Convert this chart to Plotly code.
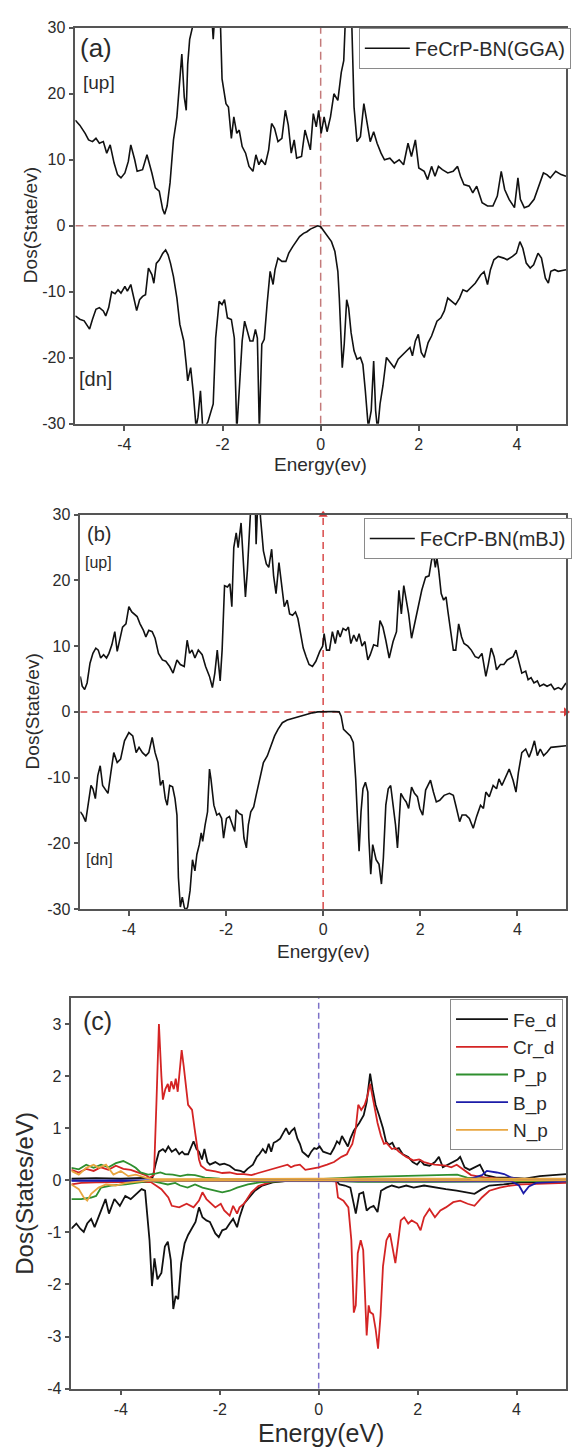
import plotly.graph_objects as go

# ---------------- data: panel (a) FeCrP-BN (GGA) ----------------
gga_up_x = [-5.0, -4.91, -4.80, -4.73, -4.65, -4.58, -4.51, -4.43, -4.36, -4.29,
            -4.21, -4.14, -4.07, -3.99, -3.92, -3.87, -3.79, -3.74, -3.63, -3.54,
            -3.44, -3.37, -3.29, -3.22, -3.18, -3.13, -3.07, -3.00, -2.93, -2.88,
            -2.83, -2.78, -2.74, -2.71, -2.67, -2.60, -2.49, -2.34, -2.23, -2.19,
            -2.14, -2.08, -2.04, -2.01, -1.93, -1.88, -1.82, -1.77, -1.71, -1.66,
            -1.60, -1.53, -1.46, -1.38, -1.32, -1.26, -1.21, -1.13, -1.06, -1.00,
            -0.94, -0.87, -0.79, -0.72, -0.66, -0.60, -0.54, -0.49, -0.39, -0.32,
            -0.26, -0.21, -0.15, -0.09, -0.04, 0.01, 0.07, 0.13, 0.20, 0.27,
            0.35, 0.42, 0.47, 0.51, 0.55, 0.60, 0.64, 0.68, 0.74, 0.81,
            0.88, 0.96, 1.01, 1.08, 1.15, 1.23, 1.30, 1.41, 1.50, 1.60,
            1.69, 1.78, 1.85, 1.93, 2.00, 2.11, 2.18, 2.26, 2.33, 2.40,
            2.48, 2.59, 2.70, 2.79, 2.85, 2.92, 3.03, 3.10, 3.18, 3.29,
            3.40, 3.51, 3.60, 3.68, 3.75, 3.84, 3.95, 4.02, 4.07, 4.15,
            4.24, 4.35, 4.46, 4.54, 4.61, 4.68, 4.79, 4.90, 5.00]
gga_up_y = [16, 15.25, 14, 13, 12.75, 13.25, 12.5, 12.75, 11, 12.25,
            9.5, 7.75, 7.25, 8, 9.75, 12.25, 10, 8.25, 8.5, 10.75,
            8, 5.75, 5.25, 2.5, 1.75, 3, 6.5, 13, 16.5, 21.5,
            26, 19.5, 17.5, 24.5, 28.25, 30.5, 38, 40, 33, 28.25,
            34, 31, 30, 22.25, 18.5, 18, 13.25, 16.5, 14, 14.5,
            12, 11, 9, 8.25, 10.75, 9.25, 10, 9.25, 11.5, 15.5,
            14.75, 12.75, 13.25, 17.5, 15.25, 11, 13, 10.25, 10.5, 14.5,
            13, 11.5, 17, 15, 17.5, 14, 16.5, 14.25, 16.5, 20,
            19, 23.25, 25, 30, 40, 40, 30, 18, 12.75, 13.5,
            18.5, 14.5, 12.75, 14.25, 12.5, 11, 10, 10.25, 9.5, 10,
            9.25, 12.5, 10.5, 13, 8.75, 8.25, 7, 9, 7.5, 9,
            8.5, 8, 8.25, 9, 7.5, 6.25, 6, 5, 6, 3.5,
            3, 3, 4.5, 8.25, 5.5, 4, 2.75, 7.25, 4, 2.75,
            3, 4, 6.5, 8, 7.75, 7.25, 8.25, 7.75, 7.5]

gga_dn_x = [-5.0, -4.91, -4.82, -4.76, -4.71, -4.65, -4.58, -4.51, -4.43, -4.38,
            -4.32, -4.26, -4.19, -4.13, -4.07, -3.99, -3.94, -3.87, -3.81, -3.75,
            -3.69, -3.63, -3.57, -3.51, -3.44, -3.40, -3.35, -3.29, -3.22, -3.16,
            -3.11, -3.06, -3.00, -2.93, -2.87, -2.79, -2.74, -2.71, -2.65, -2.60,
            -2.54, -2.50, -2.45, -2.40, -2.30, -2.19, -2.14, -2.07, -2.01, -1.96,
            -1.90, -1.82, -1.76, -1.71, -1.66, -1.60, -1.55, -1.49, -1.44, -1.38,
            -1.33, -1.29, -1.25, -1.20, -1.15, -1.09, -1.03, -0.97, -0.93, -0.87,
            -0.79, -0.71, -0.65, -0.57, -0.50, -0.43, -0.35, -0.28, -0.21, -0.13,
            -0.06, 0.0, 0.05, 0.13, 0.22, 0.29, 0.35, 0.38, 0.42, 0.44,
            0.48, 0.53, 0.57, 0.62, 0.68, 0.74, 0.81, 0.86, 0.91, 0.97,
            1.03, 1.08, 1.12, 1.16, 1.21, 1.27, 1.34, 1.41, 1.50, 1.58,
            1.67, 1.75, 1.82, 1.87, 1.93, 1.99, 2.05, 2.11, 2.19, 2.26,
            2.37, 2.45, 2.52, 2.59, 2.67, 2.75, 2.83, 2.90, 2.98, 3.05,
            3.15, 3.26, 3.33, 3.40, 3.46, 3.53, 3.62, 3.73, 3.80, 3.91,
            3.99, 4.06, 4.12, 4.19, 4.27, 4.34, 4.43, 4.50, 4.58, 4.64,
            4.69, 4.77, 4.84, 5.0]
gga_dn_y = [-13.65, -14.15, -14.4, -15.15, -15.65, -14.15, -12.65, -12.4, -12.9, -13.65,
            -12.4, -10, -10.3, -9.7, -10.2, -9.2, -9.9, -8.9, -10.9, -12.85,
            -11.2, -10.7, -10.45, -6.4, -7.4, -8.7, -5.7, -5.2, -4.2, -3.65,
            -4.4, -5.7, -7.7, -10.95, -14.95, -17.45, -21, -23.5, -21.5, -25,
            -30.5, -29, -25, -31, -29.75, -27, -17, -11.45, -11.95, -11.2,
            -13.95, -14.2, -17, -31, -25, -17.45, -14.45, -16.2, -17.45, -17.45,
            -15.7, -17, -31, -17.95, -17.2, -11.7, -6.9, -8.9, -6.65, -4.9,
            -5.4, -5.4, -4.15, -3.15, -2.4, -1.65, -1.15, -0.9, -0.5, -0.2,
            0, -0.15, -0.65, -1.4, -2.4, -3.9, -6.9, -10.95, -19.5, -21.5,
            -17.95, -11.2, -12.45, -16.2, -18.95, -20.2, -19.95, -21, -25, -30.5,
            -28, -20.5, -28, -31, -27, -24.2, -19.95, -20.7, -21.5, -20.2,
            -19.5, -18.95, -18.45, -19.7, -17.45, -16.45, -19.2, -19.95, -17.7, -16.7,
            -14.45, -13.95, -12.9, -10.95, -11.45, -11.95, -10.95, -9.7, -9.95, -9.45,
            -8.7, -7.45, -6.95, -8.9, -6.65, -5.15, -4.65, -4.9, -5.15, -4.65,
            -4.15, -2.4, -3.4, -5.65, -6.4, -5.9, -4.15, -4.9, -7.95, -8.7,
            -6.9, -6.65, -6.9, -6.65]

# ---------------- data: panel (b) FeCrP-BN (mBJ) ----------------
mbj_up_x = [-5.0, -4.96, -4.91, -4.86, -4.80, -4.74, -4.68, -4.63, -4.58, -4.52,
            -4.46, -4.41, -4.35, -4.29, -4.24, -4.19, -4.13, -4.06, -4.00, -3.94,
            -3.89, -3.83, -3.77, -3.70, -3.65, -3.59, -3.52, -3.46, -3.39, -3.31,
            -3.24, -3.16, -3.09, -3.01, -2.94, -2.86, -2.80, -2.75, -2.70, -2.64,
            -2.57, -2.49, -2.42, -2.34, -2.28, -2.23, -2.18, -2.12, -2.08, -2.03,
            -1.97, -1.92, -1.88, -1.84, -1.79, -1.75, -1.69, -1.64, -1.60, -1.56,
            -1.51, -1.47, -1.41, -1.38, -1.33, -1.29, -1.23, -1.17, -1.12, -1.06,
            -1.02, -0.97, -0.91, -0.86, -0.80, -0.74, -0.69, -0.63, -0.57, -0.52,
            -0.47, -0.41, -0.35, -0.29, -0.22, -0.15, -0.07, -0.01, 0.02, 0.07,
            0.13, 0.19, 0.25, 0.30, 0.35, 0.41, 0.47, 0.52, 0.57, 0.63,
            0.69, 0.74, 0.80, 0.86, 0.92, 0.97, 1.04, 1.12, 1.17, 1.23,
            1.29, 1.36, 1.44, 1.51, 1.56, 1.61, 1.66, 1.71, 1.76, 1.82,
            1.88, 1.96, 2.03, 2.11, 2.18, 2.23, 2.27, 2.31, 2.34, 2.38,
            2.43, 2.48, 2.53, 2.57, 2.63, 2.68, 2.73, 2.79, 2.85, 2.90,
            2.98, 3.05, 3.13, 3.20, 3.27, 3.31, 3.35, 3.40, 3.46, 3.52,
            3.57, 3.65, 3.72, 3.79, 3.85, 3.91, 3.97, 4.02, 4.09, 4.17,
            4.22, 4.28, 4.34, 4.41, 4.46, 4.54, 4.61, 4.69, 4.76, 4.84,
            4.91, 5.0]
mbj_up_y = [5.4, 3.9, 3.4, 4.4, 7.4, 8.9, 9.7, 9.4, 8.2, 8.7,
            8.2, 8.9, 10.2, 12.2, 9.2, 10.9, 12.9, 13.4, 16, 15.2,
            14.9, 14.5, 13.4, 12.4, 11.4, 12.4, 12.2, 11.2, 8.9, 7.9,
            7.7, 6.9, 5.9, 7.9, 7.2, 6.9, 10.9, 8.9, 9.4, 8.2,
            9.4, 8.7, 6.9, 5.4, 3.7, 5.9, 9.4, 4.7, 9.4, 19.2,
            19, 19.5, 16, 25, 27.25, 25, 28.75, 21.5, 17.5, 21.5,
            28, 34, 36, 25.5, 35, 29.6, 24.5, 22.5, 22, 24.75,
            20.7, 18, 22.7, 19.5, 16, 17, 14.9, 14.7, 15.2, 14.2,
            11.9, 9.7, 8.4, 7.2, 6.9, 7.7, 9.2, 10, 11.9, 9.4,
            9.4, 12.2, 10.4, 12.4, 11.4, 12.7, 12.4, 12.9, 10.4, 11.7,
            10.7, 11.9, 10, 10.7, 7.9, 8.7, 10.2, 10, 13.9, 12.9,
            10.9, 8.2, 10.7, 12.2, 18.5, 14.9, 19.2, 17, 14.9, 11.2,
            13.4, 16, 18.5, 20.5, 20.7, 23, 24, 22, 23.5, 21.5,
            18, 17, 17.5, 15.2, 12.4, 9.4, 9.4, 13.4, 11.4, 10.4,
            10, 9.4, 8.4, 8.2, 8.9, 6.9, 5.4, 7.2, 9.7, 8.4,
            6.4, 7.2, 7.2, 7.9, 8.2, 8.4, 9.4, 7.9, 5.9, 6.2,
            4.9, 5.2, 4.4, 4.7, 3.9, 4.2, 3.9, 4.2, 3.4, 3.7,
            3.4, 4.4]

mbj_dn_x = [-5.0, -4.95, -4.89, -4.84, -4.78, -4.74, -4.69, -4.64, -4.59, -4.54,
            -4.49, -4.43, -4.37, -4.31, -4.24, -4.17, -4.09, -4.00, -3.92, -3.85,
            -3.79, -3.72, -3.65, -3.59, -3.52, -3.46, -3.40, -3.35, -3.30, -3.25,
            -3.21, -3.16, -3.10, -3.05, -3.01, -2.98, -2.94, -2.90, -2.86, -2.83,
            -2.79, -2.74, -2.69, -2.64, -2.60, -2.55, -2.51, -2.48, -2.43, -2.38,
            -2.34, -2.31, -2.25, -2.19, -2.14, -2.09, -2.05, -1.99, -1.93, -1.88,
            -1.82, -1.79, -1.73, -1.67, -1.63, -1.58, -1.54, -1.49, -1.43, -1.38,
            -1.30, -1.23, -1.15, -1.08, -1.00, -0.93, -0.84, -0.74, -0.65, -0.56,
            -0.45, -0.33, -0.22, -0.11, 0.0, 0.11, 0.22, 0.33, 0.37, 0.42,
            0.48, 0.56, 0.62, 0.67, 0.71, 0.74, 0.78, 0.82, 0.87, 0.92,
            0.94, 0.98, 1.02, 1.06, 1.09, 1.15, 1.20, 1.24, 1.29, 1.34,
            1.39, 1.44, 1.49, 1.53, 1.56, 1.60, 1.66, 1.71, 1.76, 1.82,
            1.88, 1.94, 1.99, 2.05, 2.11, 2.16, 2.21, 2.27, 2.33, 2.40,
            2.49, 2.60, 2.68, 2.73, 2.81, 2.86, 2.94, 3.01, 3.09, 3.16,
            3.24, 3.30, 3.35, 3.42, 3.50, 3.57, 3.62, 3.68, 3.76, 3.83,
            3.91, 3.97, 4.02, 4.09, 4.17, 4.24, 4.29, 4.35, 4.41, 4.47,
            4.54, 4.61, 4.69, 5.0]
mbj_dn_y = [-15.2, -15.7, -16.7, -14.2, -11.2, -11.7, -13.2, -9.7, -8.2, -11.2,
            -11.7, -12.4, -9.2, -6.2, -7.7, -7.2, -4.4, -3.15, -3.65, -6.2,
            -5.4, -6.2, -6.7, -6.2, -3.9, -6.2, -7.7, -11.2, -10.4, -13.2,
            -14.2, -11.2, -11.4, -13.2, -15.7, -25.2, -29.7, -28.2, -29.7, -30.2,
            -29.7, -27.2, -22.5, -24.2, -21.7, -20.2, -18.4, -19.7, -17.2, -15.2,
            -8.7, -10.2, -14.2, -15.7, -15.45, -16.2, -19.2, -16.2, -15.9, -16.9,
            -18.2, -14.9, -15.45, -15.7, -19.2, -20.7, -17.2, -15.2, -14.45, -12.7,
            -10.2, -7.7, -6.7, -5.15, -3.65, -2.65, -1.65, -1.25, -1.05, -0.9,
            -0.65, -0.35, -0.15, 0, 0.05, 0.05, 0.05, 0, -0.65, -2.65,
            -3.15, -3.65, -4.65, -10.2, -16.7, -21.2, -15.2, -11.7, -10.7, -12.2,
            -19.2, -24.7, -20.2, -21.7, -22.5, -23.2, -26.2, -22.2, -14.2, -11.7,
            -11.2, -14.2, -17.2, -20.7, -16.2, -12.4, -13.2, -13.7, -14.7, -11.45,
            -12.4, -12.9, -14.7, -15.7, -11.9, -11.2, -10.4, -12.2, -13.7, -13.45,
            -12.7, -12.4, -12.7, -14.2, -16.7, -15.7, -15.7, -16.2, -17.7, -15.9,
            -14.2, -14.7, -12.2, -12.9, -11.2, -11.7, -10.2, -11.2, -9.9, -8.7,
            -10.4, -12.2, -9.2, -6.2, -5.65, -6.9, -5.9, -4.4, -6.65, -5.65,
            -6.65, -6.15, -5.4, -5.15]

# ---------------- data: panel (c) partial DOS ----------------
fe_d_up_x = [-5.0, -4.5, -4.0, -3.5, -3.36, -3.30, -3.23, -3.15, -3.10, -3.04,
             -2.97, -2.89, -2.82, -2.76, -2.71, -2.64, -2.56, -2.53, -2.47, -2.42,
             -2.36, -2.31, -2.25, -2.20, -2.09, -2.00, -1.91, -1.80, -1.69, -1.58,
             -1.51, -1.44, -1.33, -1.25, -1.20, -1.13, -1.07, -1.01, -0.96, -0.91,
             -0.85, -0.78, -0.71, -0.66, -0.60, -0.55, -0.49, -0.43, -0.38, -0.33,
             -0.27, -0.21, -0.15, -0.09, -0.04, 0.02, 0.09, 0.17, 0.24, 0.31,
             0.37, 0.42, 0.47, 0.53, 0.59, 0.64, 0.71, 0.82, 0.91, 0.97,
             1.04, 1.09, 1.15, 1.22, 1.30, 1.36, 1.42, 1.49, 1.55, 1.62,
             1.70, 1.81, 1.90, 1.99, 2.06, 2.13, 2.24, 2.35, 2.43, 2.51,
             2.61, 2.72, 2.81, 2.86, 2.95, 3.05, 3.15, 3.26, 3.37, 3.59,
             3.88, 4.17, 4.47, 4.68, 5.0]
fe_d_up_y = [0.03, 0.04, 0.03, 0.04, 0.05, 0.3, 0.55, 0.6, 0.55, 0.65,
             0.55, 0.6, 0.5, 0.55, 0.5, 0.5, 0.68, 0.75, 0.6, 0.55,
             0.4, 0.6, 0.35, 0.3, 0.35, 0.3, 0.32, 0.28, 0.2, 0.18,
             0.15, 0.22, 0.3, 0.45, 0.5, 0.6, 0.52, 0.7, 0.55, 0.72,
             0.75, 0.8, 0.92, 1.0, 0.88, 0.95, 1.0, 0.8, 0.7, 0.55,
             0.5, 0.45, 0.55, 0.62, 0.6, 0.65, 0.55, 0.52, 0.5, 0.62,
             0.75, 0.7, 0.85, 0.75, 0.65, 0.8, 0.95, 1.1, 1.25, 1.5,
             2.05, 1.75, 1.45, 1.25, 1.0, 0.75, 0.68, 0.72, 0.6, 0.62,
             0.5, 0.45, 0.35, 0.3, 0.38, 0.3, 0.28, 0.35, 0.45, 0.25,
             0.3, 0.35, 0.4, 0.45, 0.25, 0.2, 0.25, 0.3, 0.1, 0.05,
             0.05, 0.03, 0.08, 0.1, 0.12]
fe_d_dn_x = [-5.0, -4.97, -4.90, -4.82, -4.75, -4.68, -4.60, -4.53, -4.42, -4.31,
             -4.24, -4.13, -4.02, -3.91, -3.80, -3.69, -3.58, -3.51, -3.48, -3.42,
             -3.37, -3.32, -3.26, -3.18, -3.11, -3.05, -2.99, -2.94, -2.89, -2.84,
             -2.78, -2.71, -2.64, -2.56, -2.49, -2.42, -2.35, -2.27, -2.20, -2.09,
             -2.02, -1.95, -1.87, -1.80, -1.73, -1.65, -1.60, -1.51, -1.40, -1.29,
             -1.14, -0.93, -0.63, 0.0, 0.35, 0.42, 0.53, 0.64, 0.70, 0.75,
             0.82, 0.90, 0.97, 1.04, 1.11, 1.19, 1.26, 1.37, 1.48, 1.62,
             1.77, 1.92, 2.13, 2.35, 2.57, 2.79, 3.01, 3.15, 3.30, 3.45,
             3.74, 4.10, 5.0]
fe_d_dn_y = [-0.93, -0.9, -0.83, -0.93, -0.99, -0.83, -0.74, -0.9, -0.64, -0.36,
             -0.64, -0.36, -0.49, -0.3, -0.36, -0.26, -0.17, -0.2, -0.52, -1.15,
             -2.03, -1.5, -1.9, -1.78, -1.27, -1.18, -1.53, -2.47, -2.22, -2.28,
             -1.59, -1.21, -1.05, -0.9, -0.8, -0.52, -0.71, -0.77, -0.8, -1.02,
             -1.09, -0.96, -0.93, -0.83, -0.74, -0.9, -0.71, -0.45, -0.33, -0.2,
             -0.1, -0.04, -0.01, 0, 0, -0.08, -0.1, -0.14, -0.4, -0.64,
             -0.26, -0.23, -0.58, -0.52, -0.49, -0.61, -0.2, -0.14, -0.1, -0.14,
             -0.1, -0.14, -0.1, -0.14, -0.17, -0.2, -0.23, -0.26, -0.17, -0.1,
             -0.08, -0.04, -0.02]

cr_d_up_x = [-5.0, -4.85, -4.7, -4.55, -4.4, -4.25, -4.1, -3.95, -3.8, -3.65,
             -3.5, -3.42, -3.33, -3.28, -3.23, -3.18, -3.15, -3.10, -3.05, -3.02,
             -2.98, -2.93, -2.89, -2.85, -2.82, -2.77, -2.73, -2.69, -2.64, -2.60,
             -2.56, -2.51, -2.47, -2.42, -2.38, -2.27, -2.09, -1.95, -1.80, -1.65,
             -1.51, -1.36, -1.22, -1.07, -0.93, -0.78, -0.63, -0.56, -0.49, -0.38,
             -0.27, -0.16, 0.0, 0.17, 0.31, 0.46, 0.57, 0.62, 0.68, 0.75,
             0.80, 0.86, 0.93, 0.98, 1.04, 1.11, 1.19, 1.26, 1.32, 1.37,
             1.48, 1.55, 1.62, 1.77, 1.92, 2.03, 2.13, 2.24, 2.35, 2.57,
             2.68, 2.79, 2.94, 3.08, 3.37, 3.74, 4.47, 5.0]
cr_d_up_y = [0.2, 0.15, 0.22, 0.18, 0.25, 0.2, 0.28, 0.22, 0.2, 0.15,
             0.1, 0.05, 0.1, 1.5, 3.0, 2.0, 1.55, 1.75, 1.85, 1.7,
             1.9, 1.75, 1.95, 1.7, 2.0, 2.5, 2.2, 1.8, 1.45, 1.4,
             1.35, 1.0, 0.7, 0.4, 0.28, 0.2, 0.17, 0.14, 0.15, 0.12,
             0.12, 0.1, 0.14, 0.18, 0.22, 0.27, 0.3, 0.25, 0.28, 0.3,
             0.2, 0.22, 0.25, 0.3, 0.35, 0.45, 0.5, 0.6, 0.7, 1.0,
             1.45, 1.35, 1.45, 1.6, 1.85, 1.5, 1.1, 0.85, 0.7, 0.72,
             0.6, 0.62, 0.55, 0.45, 0.38, 0.4, 0.35, 0.32, 0.3, 0.28,
             0.25, 0.3, 0.2, 0.1, 0.05, 0.02, 0.02, 0.02]
cr_d_dn_x = [-5.0, -4.8, -4.5, -4.0, -3.6, -3.40, -3.18, -3.04, -2.97, -2.82,
             -2.67, -2.53, -2.42, -2.35, -2.27, -2.16, -2.09, -1.98, -1.91, -1.80,
             -1.73, -1.65, -1.60, -1.51, -1.36, -1.22, -0.93, 0.0, 0.35, 0.39,
             0.50, 0.60, 0.66, 0.71, 0.75, 0.79, 0.85, 0.90, 0.93, 0.97,
             1.01, 1.04, 1.10, 1.15, 1.20, 1.25, 1.30, 1.37, 1.44, 1.52,
             1.55, 1.61, 1.66, 1.73, 1.81, 1.88, 1.99, 2.06, 2.13, 2.24,
             2.35, 2.46, 2.57, 2.72, 2.86, 3.01, 3.15, 3.30, 3.45, 3.66,
             3.88, 4.10, 5.0]
cr_d_dn_y = [-0.08, -0.05, -0.04, -0.03, -0.02, -0.03, -0.17, -0.33, -0.49, -0.52,
             -0.45, -0.52, -0.39, -0.23, -0.36, -0.45, -0.52, -0.45, -0.58, -0.68,
             -0.49, -0.64, -0.52, -0.45, -0.23, -0.11, -0.02, 0, -0.02, -0.33,
             -0.39, -0.52, -1.15, -2.54, -2.4, -1.4, -1.15, -1.34, -2.09, -2.98,
             -2.4, -2.53, -2.57, -2.85, -3.23, -2.6, -1.65, -1.15, -1.02, -1.4,
             -1.59, -1.15, -0.77, -0.71, -0.83, -0.77, -0.83, -0.96, -0.71, -0.55,
             -0.71, -0.58, -0.52, -0.42, -0.39, -0.45, -0.49, -0.33, -0.2, -0.14,
             -0.1, -0.08, -0.05]

p_p_up_x = [-5.0, -4.85, -4.7, -4.55, -4.4, -4.25, -4.1, -3.95, -3.8, -3.7,
            -3.6, -3.45, -3.3, -3.2, -3.1, -2.95, -2.8, -2.65, -2.5, -2.3,
            -2.0, -1.0, 0.0, 0.8, 1.5, 2.3, 2.8, 3.0, 3.5, 5.0]
p_p_up_y = [0.24, 0.21, 0.3, 0.24, 0.3, 0.25, 0.33, 0.37, 0.3, 0.24,
            0.15, 0.11, 0.13, 0.15, 0.12, 0.11, 0.08, 0.11, 0.1, 0.05,
            0.03, 0.03, 0.02, 0.06, 0.08, 0.1, 0.11, 0.05, 0.02, 0.02]
p_p_dn_x = [-5.0, -4.8, -4.6, -4.5, -4.4, -4.2, -3.9, -3.4, -3.2, -3.05,
            -2.9, -2.8, -2.65, -2.5, -2.35, -2.2, -2.1, -1.95, -1.8, -1.65,
            -1.43, -1.2, -0.6, 0.0, 0.8, 2.3, 5.0]
p_p_dn_y = [-0.36, -0.36, -0.33, -0.3, -0.14, -0.1, -0.08, -0.01, -0.05, -0.08,
            -0.05, -0.1, -0.14, -0.08, -0.14, -0.17, -0.2, -0.23, -0.2, -0.14,
            -0.08, -0.04, -0.01, 0, -0.03, -0.03, -0.01]

b_p_up_x = [-5.0, 3.0, 3.3, 3.4, 3.6, 3.75, 3.9, 4.1, 5.0]
b_p_up_y = [0.0, 0.01, 0.1, 0.18, 0.15, 0.12, 0.05, 0.02, 0.02]
b_p_dn_x = [-5.0, 3.9, 4.05, 4.14, 4.25, 4.4, 5.0]
b_p_dn_y = [-0.01, -0.02, -0.1, -0.25, -0.12, -0.05, -0.02]

n_p_up_x = [-5.0, -4.85, -4.7, -4.55, -4.45, -4.3, -4.15, -4.0, -3.85, -3.7, -3.5, -3.35, 0.0, 5.0]
n_p_up_y = [0.18, 0.11, 0.24, 0.3, 0.24, 0.3, 0.11, 0.18, 0.08, 0.11, 0.05, 0.02, 0.03, 0.03]
n_p_dn_x = [-5.0, -4.85, -4.75, -4.68, -4.6, -4.45, -4.3, -4.1, -3.9, -3.5, 5.0]
n_p_dn_y = [-0.08, -0.17, -0.33, -0.39, -0.26, -0.14, -0.08, -0.1, -0.05, -0.01, 0]

pdos_names = ["Fe_d", "Cr_d", "P_p", "B_p", "N_p"]

# tick values and labels (plain hyphen minus, as in the original)
energy_ticks = [-4, -2, 0, 2, 4]
energy_labels = ["-4", "-2", "0", "2", "4"]
dos_ticks = [-30, -20, -10, 0, 10, 20, 30]
dos_labels = ["-30", "-20", "-10", "0", "10", "20", "30"]
pdos_ticks = [-4, -3, -2, -1, 0, 1, 2, 3]
pdos_labels = ["-4", "-3", "-2", "-1", "0", "1", "2", "3"]

pairs = [(gga_up_x, gga_up_y), (gga_dn_x, gga_dn_y), (mbj_up_x, mbj_up_y), (mbj_dn_x, mbj_dn_y),
         (fe_d_up_x, fe_d_up_y), (fe_d_dn_x, fe_d_dn_y), (cr_d_up_x, cr_d_up_y), (cr_d_dn_x, cr_d_dn_y),
         (p_p_up_x, p_p_up_y), (p_p_dn_x, p_p_dn_y), (b_p_up_x, b_p_up_y), (b_p_dn_x, b_p_dn_y),
         (n_p_up_x, n_p_up_y), (n_p_dn_x, n_p_dn_y)]
for i, (a, b) in enumerate(pairs):
    assert len(a) == len(b), (i, len(a), len(b))

# ---------------- figure ----------------
W, H = 572, 1454
FONT = "Liberation Sans, Arial, sans-serif"
TXT = "#2b2b2b"


def fx(p):
    return p / W


def fy(p):
    return 1 - p / H


fig = go.Figure()

# panel (a)
fig.add_trace(go.Scatter(x=gga_up_x, y=gga_up_y, mode="lines", name="FeCrP-BN(GGA)",
                         line=dict(color="#111111", width=1.6), xaxis="x", yaxis="y", legend="legend"))
fig.add_trace(go.Scatter(x=gga_dn_x, y=gga_dn_y, mode="lines", showlegend=False,
                         line=dict(color="#111111", width=1.6), xaxis="x", yaxis="y"))
# panel (b)
fig.add_trace(go.Scatter(x=mbj_up_x, y=mbj_up_y, mode="lines", name="FeCrP-BN(mBJ)",
                         line=dict(color="#111111", width=1.6), xaxis="x2", yaxis="y2", legend="legend2"))
fig.add_trace(go.Scatter(x=mbj_dn_x, y=mbj_dn_y, mode="lines", showlegend=False,
                         line=dict(color="#111111", width=1.6), xaxis="x2", yaxis="y2"))
# axis arrow heads in (b)
fig.add_trace(go.Scatter(x=[0, 5], y=[30, 0], mode="markers", showlegend=False, cliponaxis=False,
                         marker=dict(symbol=["triangle-up", "triangle-right"], size=8, color="#d83a3a"),
                         xaxis="x2", yaxis="y2", hoverinfo="skip"))

# panel (c)
pdos = [
    (fe_d_up_x, fe_d_up_y, fe_d_dn_x, fe_d_dn_y, "#111111"),
    (cr_d_up_x, cr_d_up_y, cr_d_dn_x, cr_d_dn_y, "#d42424"),
    (p_p_up_x, p_p_up_y, p_p_dn_x, p_p_dn_y, "#2f8f2f"),
    (b_p_up_x, b_p_up_y, b_p_dn_x, b_p_dn_y, "#1c1ca8"),
    (n_p_up_x, n_p_up_y, n_p_dn_x, n_p_dn_y, "#e8a640"),
]
for name, (ux, uy, dx, dy, col) in zip(pdos_names, pdos):
    fig.add_trace(go.Scatter(x=list(ux) + [None] + list(dx), y=list(uy) + [None] + list(dy),
                             mode="lines", name=name, connectgaps=False,
                             line=dict(color=col, width=1.8), xaxis="x3", yaxis="y3", legend="legend3"))

axis_style = dict(showline=True, linecolor="#555555", linewidth=1.5, mirror=True,
                  ticks="outside", ticklen=5, tickwidth=1.5, tickcolor="#555555",
                  showgrid=False, zeroline=False,
                  tickfont=dict(family=FONT, size=16, color=TXT))
ex = dict(tickmode="array", tickvals=energy_ticks, ticktext=energy_labels)
dy_ = dict(tickmode="array", tickvals=dos_ticks, ticktext=dos_labels)
py_ = dict(tickmode="array", tickvals=pdos_ticks, ticktext=pdos_labels)

fig.update_layout(
    width=W, height=H, margin=dict(l=0, r=0, t=0, b=0),
    paper_bgcolor="white", plot_bgcolor="white", showlegend=True,
    xaxis=dict(domain=[fx(76), fx(571)], range=[-5, 5], anchor="y", **ex, **axis_style),
    yaxis=dict(domain=[fy(420.7), fy(20)], range=[-30, 30], anchor="x", **dy_, **axis_style),
    xaxis2=dict(domain=[fx(81), fx(571)], range=[-5, 5], anchor="y2", **ex, **axis_style),
    yaxis2=dict(domain=[fy(911.7), fy(512.7)], range=[-30, 30], anchor="x2", **dy_, **axis_style),
    xaxis3=dict(domain=[fx(72), fx(571)], range=[-5, 5], anchor="y3", **ex, **axis_style),
    yaxis3=dict(domain=[fy(1397), fy(1001.7)], range=[-4, 3.5], anchor="x3", **py_, **axis_style),
    legend=dict(x=fx(362), y=fy(20), xanchor="left", yanchor="top", bgcolor="white",
                bordercolor="#8a8a8a", borderwidth=1, itemwidth=45,
                font=dict(family=FONT, size=20, color=TXT)),
    legend2=dict(x=fx(367), y=fy(516), xanchor="left", yanchor="top", bgcolor="white",
                 bordercolor="#8a8a8a", borderwidth=1, itemwidth=45,
                 font=dict(family=FONT, size=20, color=TXT)),
    legend3=dict(x=fx(454), y=fy(1003), xanchor="left", yanchor="top", bgcolor="white",
                 bordercolor="#8a8a8a", borderwidth=1, itemwidth=52, tracegroupgap=0,
                 font=dict(family=FONT, size=19, color=TXT)),
)

# dashed reference lines
fig.add_shape(type="line", xref="x", yref="y", x0=-5, x1=5, y0=0, y1=0, layer="below",
              line=dict(color="#c47a7a", width=1.5, dash="8px,5px"))
fig.add_shape(type="line", xref="x", yref="y", x0=0, x1=0, y0=-30, y1=30, layer="below",
              line=dict(color="#c47a7a", width=1.5, dash="8px,5px"))
fig.add_shape(type="line", xref="x2", yref="y2", x0=-5, x1=5, y0=0, y1=0, layer="below",
              line=dict(color="#d84a4a", width=1.5, dash="7px,5px"))
fig.add_shape(type="line", xref="x2", yref="y2", x0=0, x1=0, y0=-30, y1=30, layer="below",
              line=dict(color="#d84a4a", width=1.5, dash="7px,5px"))
fig.add_shape(type="line", xref="x3", yref="y3", x0=0, x1=0, y0=-4, y1=3.5, layer="below",
              line=dict(color="#7d72c8", width=1.5, dash="6px,4px"))


def note(text, x, y, size, xanchor="left", angle=0):
    fig.add_annotation(text=text, x=fx(x), y=fy(y), xref="paper", yref="paper",
                       xanchor=xanchor, yanchor="middle", showarrow=False, textangle=angle,
                       font=dict(family=FONT, size=size, color=TXT))


# panel labels and axis titles
note("(a)", 79, 40, 26)
note("[up]", 82, 75, 19)
note("[dn]", 78, 375, 20)
note("Energy(ev)", 323, 462, 19, "center")
note("Dos(State/ev)", 31, 220, 19, "center", -90)

note("(b)", 86, 532, 20)
note("[up]", 84, 561, 16)
note("[dn]", 85, 862, 16)
note("Energy(ev)", 326, 955, 19, "center")
note("Dos(State/ev)", 33, 712, 19, "center", -90)

note("(c)", 82, 1025, 25)
note("Energy(eV)", 324, 1442, 25, "center")
note("Dos(States/eV)", 25, 1199, 24, "center", -90)

fig.write_html("out.html", config={"displayModeBar": False})
